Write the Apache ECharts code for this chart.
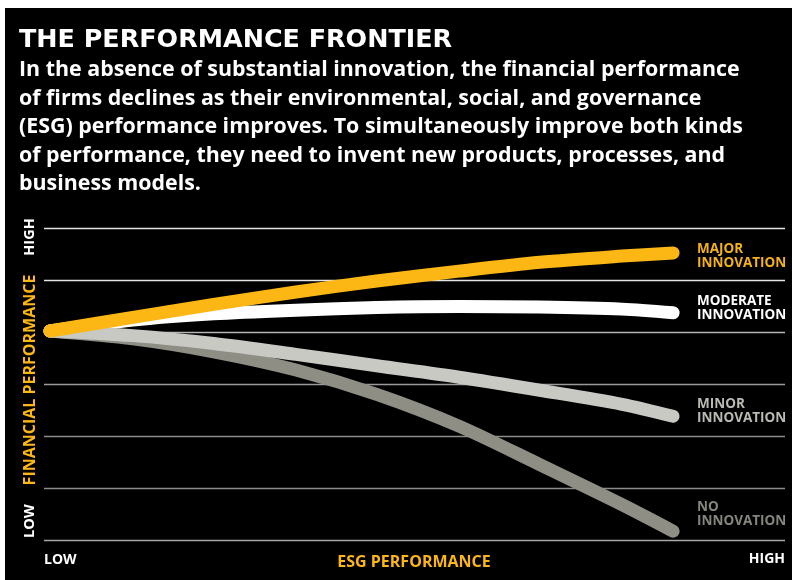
<!DOCTYPE html>
<html>
<head>
<meta charset="utf-8">
<script src="https://cdn.jsdelivr.net/npm/echarts@6/dist/echarts.min.js"></script>
<style>
  html, body { margin: 0; padding: 0; background: #fff; }
  #chart { width: 792px; height: 580px; }
</style>
</head>
<body>
<div id="chart"></div>
<script>
    // ESG performance (0 = low .. 100 = high), financial performance (0 = low .. 6 = high)
    var esg = [0.8, 12.0, 22.9, 34.0, 44.9, 56.0, 66.9, 78.0, 84.9];
    var majorInnovation = [4.02, 4.28, 4.53, 4.77, 4.98, 5.17, 5.34, 5.46, 5.52];
    var moderateInnovation = [4.02, 4.23, 4.35, 4.42, 4.47, 4.49, 4.48, 4.44, 4.37];
    var minorInnovation = [4.02, 3.93, 3.78, 3.57, 3.35, 3.13, 2.88, 2.61, 2.38];
    var noInnovation = [4.02, 3.87, 3.62, 3.27, 2.80, 2.19, 1.45, 0.68, 0.17];

    var title = 'THE PERFORMANCE FRONTIER';
    var subtitle = [
        'In the absence of substantial innovation, the financial performance',
        'of firms declines as their environmental, social, and governance',
        '(ESG) performance improves. To simultaneously improve both kinds',
        'of performance, they need to invent new products, processes, and',
        'business models.'
    ];

    function pairs(ys) {
        var out = [];
        for (var i = 0; i < esg.length; i++) {
            out.push([esg[i], ys[i]]);
        }
        return out;
    }

    function curve(name, ys, color, z) {
        return {
            name: name,
            type: 'line',
            data: pairs(ys),
            smooth: 0.3,
            showSymbol: false,
            silent: true,
            z: z,
            lineStyle: { color: color, width: 13, cap: 'round', join: 'round' }
        };
    }

    function label(x, y, txt, color, size, rotate, align) {
        return {
            type: 'text',
            x: x,
            y: y,
            rotation: rotate || 0,
            silent: true,
            style: {
                text: txt,
                fill: color,
                font: 'bold ' + size + 'px "Open Sans", sans-serif',
                align: align || 'left',
                textAlign: align || 'left',
                verticalAlign: 'middle',
                textVerticalAlign: 'middle'
            }
        };
    }

    var FONT_SUB = 'bold 21.4px "Open Sans", sans-serif';
    var graphics = [
        { type: 'rect', shape: { x: 5, y: 8, width: 787, height: 572 }, style: { fill: '#000' }, z: -10, silent: true },
        {
            type: 'text', x: 19, y: 40, silent: true,
            style: { text: title, fill: '#fff', font: 'bold 25.4px "DejaVu Sans", sans-serif', verticalAlign: 'middle', textVerticalAlign: 'middle' }
        }
    ];
    for (var i = 0; i < subtitle.length; i++) {
        graphics.push({
            type: 'text', x: 19, y: 70 + i * 28.6, silent: true,
            style: { text: subtitle[i], fill: '#fff', font: FONT_SUB, verticalAlign: 'middle', textVerticalAlign: 'middle' }
        });
    }

    // axis captions
    graphics.push(label(30, 237, 'HIGH', '#fff', 14.5, Math.PI / 2, 'center'));
    graphics.push(label(30, 380, 'FINANCIAL PERFORMANCE', '#FDB714', 16, Math.PI / 2, 'center'));
    graphics.push(label(30, 521, 'LOW', '#fff', 14.5, Math.PI / 2, 'center'));
    graphics.push(label(44, 560, 'LOW', '#fff', 14));
    graphics.push(label(414, 562, 'ESG PERFORMANCE', '#FDB714', 16, 0, 'center'));
    graphics.push(label(785, 559, 'HIGH', '#fff', 14, 0, 'right'));

    // series captions
    var seriesLabels = [
        ['MAJOR', 249, '#F3B11C'],
        ['MODERATE', 301, '#ffffff'],
        ['MINOR', 404, '#B9BAB4'],
        ['NO', 507, '#85857E']
    ];
    seriesLabels.forEach(function (s) {
        graphics.push(label(697, s[1], s[0], s[2], 13.5));
        graphics.push(label(697, s[1] + 14, 'INNOVATION', s[2], 13.5));
    });

    var chart = echarts.init(document.getElementById('chart'));
    chart.setOption({
        backgroundColor: '#fff',
        animation: false,
        grid: { left: 44, right: 7, top: 228, bottom: 40 },
        xAxis: {
            type: 'value', min: 0, max: 100,
            axisLine: { show: false }, axisTick: { show: false },
            axisLabel: { show: false }, splitLine: { show: false }
        },
        yAxis: {
            type: 'value', min: 0, max: 6, interval: 1,
            axisLine: { show: false }, axisTick: { show: false }, axisLabel: { show: false },
            splitLine: {
                lineStyle: {
                    width: 1.3,
                    color: ['#a8a8a8', '#8c8c8c', '#8c8c8c', '#9a9a9a', '#b4b4b4', '#e4e4e4', '#e4e4e4']
                }
            }
        },
        graphic: graphics,
        series: [
            curve('No innovation', noInnovation, '#8E8E85', 2),
            curve('Moderate innovation', moderateInnovation, '#ffffff', 3),
            curve('Minor innovation', minorInnovation, '#C8C9C3', 4),
            curve('Major innovation', majorInnovation, '#FDB714', 5)
        ]
    });
</script>
</body>
</html>
